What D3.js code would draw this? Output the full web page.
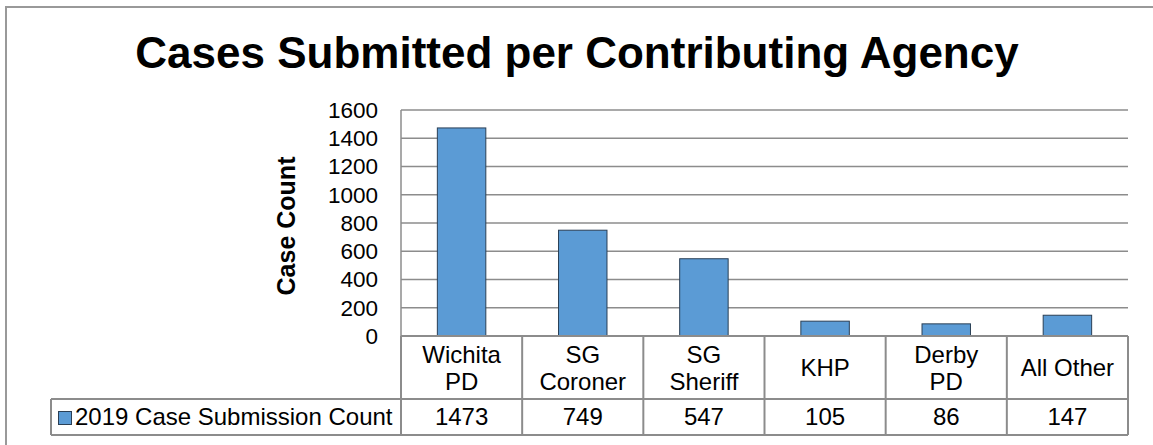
<!DOCTYPE html>
<html>
<head>
<meta charset="utf-8">
<script src="https://cdn.jsdelivr.net/npm/d3@7"></script>
<style>
  body { margin: 0; background: #fff; }
  svg { display: block; font-family: "Liberation Sans", Arial, sans-serif; }
</style>
</head>
<body>
<svg id="chart" width="1153" height="445"></svg>
<script>
var agencies = [["Wichita", "PD"], ["SG", "Coroner"], ["SG", "Sheriff"], ["KHP"], ["Derby", "PD"], ["All Other"]];
var counts = [1473, 749, 547, 105, 86, 147];
var yTicks = [0, 200, 400, 600, 800, 1000, 1200, 1400, 1600];
var seriesName = "2019 Case Submission Count";
var title = "Cases Submitted per Contributing Agency";
var yTitle = "Case Count";

var svg = d3.select('#chart');
var grid = '#8c8c8c';

var plotLeft = 401, plotRight = 1128, plotTop = 110, plotBottom = 336;
var rowSplit = 399, tableBottom = 435, legendLeft = 51;

var x = d3.scaleBand()
    .domain(d3.range(counts.length))
    .range([plotLeft, plotRight]);

var y = d3.scaleLinear()
    .domain([0, 1600])
    .range([plotBottom, plotTop]);

// outer frame (cropped on right/bottom)
svg.append('path')
    .attr('d', 'M6,445V7H1153')
    .attr('fill', 'none')
    .attr('stroke', '#999')
    .attr('stroke-width', 2);

svg.append('text')
    .attr('x', 577)
    .attr('y', 68)
    .attr('text-anchor', 'middle')
    .style('font-size', '44px')
    .style('font-weight', 'bold')
    .text(title);

// gridlines
svg.append('g')
    .selectAll('line')
    .data(yTicks.filter(d => d > 0))
    .join('line')
    .attr('x1', plotLeft).attr('x2', plotRight)
    .attr('y1', d => y(d)).attr('y2', d => y(d))
    .attr('stroke', grid)
    .attr('stroke-width', 1.5);

// y axis line
svg.append('line')
    .attr('x1', plotLeft).attr('x2', plotLeft)
    .attr('y1', plotTop).attr('y2', plotBottom)
    .attr('stroke', grid)
    .attr('stroke-width', 1.5);

svg.append('g')
    .style('font-size', '22.5px')
    .attr('text-anchor', 'end')
    .selectAll('text')
    .data(yTicks)
    .join('text')
    .attr('x', 378)
    .attr('y', d => y(d))
    .attr('dy', '0.35em')
    .text(d => d);

svg.append('text')
    .attr('transform', 'translate(295,' + 226 + ') rotate(-90)')
    .attr('text-anchor', 'middle')
    .style('font-size', '25px')
    .style('font-weight', 'bold')
    .text(yTitle);

// bars
var barW = x.bandwidth() * 0.4;
svg.append('g')
    .selectAll('rect')
    .data(counts)
    .join('rect')
    .attr('x', (d, i) => x(i) + (x.bandwidth() - barW) / 2)
    .attr('y', d => y(d))
    .attr('width', barW)
    .attr('height', d => plotBottom - y(d))
    .attr('fill', '#5b9bd5')
    .attr('stroke', '#2a3f55')
    .attr('stroke-width', 1);

// data table
var table = svg.append('g')
    .attr('stroke', grid)
    .attr('stroke-width', 2)
    .attr('fill', 'none');

table.append('line').attr('x1', plotLeft).attr('x2', plotRight).attr('y1', plotBottom).attr('y2', plotBottom);
table.append('line').attr('x1', legendLeft).attr('x2', plotRight).attr('y1', rowSplit).attr('y2', rowSplit);
table.append('line').attr('x1', legendLeft).attr('x2', plotRight).attr('y1', tableBottom).attr('y2', tableBottom);
table.append('line').attr('x1', legendLeft).attr('x2', legendLeft).attr('y1', rowSplit).attr('y2', tableBottom);
table.selectAll('.col')
    .data(d3.range(counts.length + 1))
    .join('line')
    .attr('x1', i => plotLeft + i * x.step())
    .attr('x2', i => plotLeft + i * x.step())
    .attr('y1', plotBottom)
    .attr('y2', tableBottom);

var mid = (plotBottom + rowSplit) / 2;
var cat = svg.append('g')
    .style('font-size', '24px')
    .attr('text-anchor', 'middle')
    .selectAll('text')
    .data(agencies)
    .join('text')
    .attr('x', (d, i) => x(i) + x.bandwidth() / 2)
    .attr('y', 0);

cat.selectAll('tspan')
    .data(d => d.map((t, i) => [t, i, d.length]))
    .join('tspan')
    .attr('x', function () { return this.parentNode.getAttribute('x'); })
    .attr('y', d => d[2] === 1 ? mid + 8 : (d[1] === 0 ? mid - 5 : mid + 22))
    .text(d => d[0]);

svg.append('g')
    .style('font-size', '24px')
    .attr('text-anchor', 'middle')
    .selectAll('text')
    .data(counts)
    .join('text')
    .attr('x', (d, i) => x(i) + x.bandwidth() / 2)
    .attr('y', (rowSplit + tableBottom) / 2 + 8)
    .text(d => d);

// legend key
svg.append('rect')
    .attr('x', 58.5).attr('y', 411.5)
    .attr('width', 13).attr('height', 13)
    .attr('fill', '#5b9bd5')
    .attr('stroke', '#2a3f55')
    .attr('stroke-width', 1);

svg.append('text')
    .attr('x', 75)
    .attr('y', (rowSplit + tableBottom) / 2 + 8)
    .style('font-size', '24px')
    .text(seriesName);
</script>
</body>
</html>
